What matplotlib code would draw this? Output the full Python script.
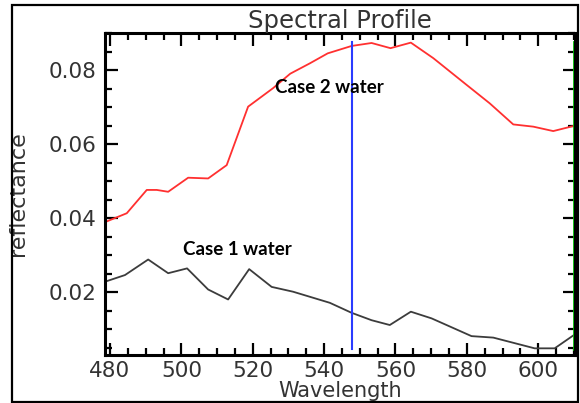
import matplotlib
matplotlib.use("Agg")
import matplotlib.pyplot as plt
from matplotlib.ticker import MultipleLocator
from matplotlib.patches import Rectangle

# Case 2 water spectrum (red)
case2_wl = [478.6, 484.7, 490.3, 493.1, 496.3, 501.9, 507.5, 512.7, 518.7, 525.7,
            530.5, 536.0, 541.0, 547.7, 553.3, 558.6, 564.3, 570.6, 579.9, 586.4,
            593.0, 598.6, 604.2, 610.0]
case2_refl = [0.0389, 0.0413, 0.0476, 0.0476, 0.0471, 0.0509, 0.0507, 0.0543, 0.0701, 0.0751,
              0.0790, 0.0818, 0.0845, 0.0865, 0.0873, 0.0859, 0.0874, 0.0832, 0.0760, 0.0710,
              0.0653, 0.0647, 0.0635, 0.0649]

# Case 1 water spectrum (black)
case1_wl = [478.6, 484.2, 490.7, 496.3, 501.6, 507.5, 513.1, 519.0, 525.3, 531.3,
            541.6, 547.7, 553.3, 558.4, 564.3, 570.1, 581.3, 587.4, 599.0, 604.6, 610.0]
case1_refl = [0.0228, 0.0246, 0.0288, 0.0251, 0.0264, 0.0207, 0.0180, 0.0262, 0.0214, 0.0201,
              0.0171, 0.0144, 0.0124, 0.0111, 0.0147, 0.0129, 0.0081, 0.0077, 0.0048, 0.0048, 0.0084]

cursor_wl = 547.7
edge_wl = 610.1
line_span = [0.0045, 0.0875]

fig = plt.figure(figsize=(5.8, 4.03), dpi=100)
ax = fig.add_axes([105 / 580, 1 - 355 / 403, 470 / 580, 322 / 403])

ax.plot(case2_wl, case2_refl, color="#ff3030", lw=1.3)
ax.plot(case1_wl, case1_refl, color="#3c3c3c", lw=1.3)
ax.plot([cursor_wl, cursor_wl], line_span, color="#2a3cff", lw=1.5)
ax.plot([edge_wl, edge_wl], line_span, color="#00c000", lw=2, clip_on=False)

ax.set_xlim(478.6, 610.3)
ax.set_ylim(0.003, 0.090)

ax.xaxis.set_major_locator(MultipleLocator(20))
ax.xaxis.set_minor_locator(MultipleLocator(5))
ax.yaxis.set_major_locator(MultipleLocator(0.02))
ax.yaxis.set_minor_locator(MultipleLocator(0.005))
ax.tick_params(which="both", direction="in", top=True, right=True, width=1.6,
               labelsize=15.5, colors="black")
ax.tick_params(which="major", length=9)
ax.tick_params(which="minor", length=5)
ax.tick_params(axis="x", which="major", pad=4)
ax.tick_params(axis="y", which="major", pad=6)
for lab in ax.get_xticklabels() + ax.get_yticklabels():
    lab.set_color("#333333")
for s in ax.spines.values():
    s.set_linewidth(2.2)

ax.set_title("Spectral Profile", fontsize=17.5, color="#333333", pad=2)
ax.set_xlabel("Wavelength", fontsize=15, color="#333333", labelpad=0)
ax.set_ylabel("reflectance", fontsize=16, color="#333333")
ax.yaxis.set_label_coords(-0.163, 0.50)

ax.text(526.2, 0.0754, "Case 2 water", fontsize=13.5, fontweight="bold",
        family="Lato", va="center")
ax.text(500.4, 0.0316, "Case 1 water", fontsize=13.5, fontweight="bold",
        family="Lato", va="center")

fig.patches.append(Rectangle((12 / 580, 1 / 403), 566 / 580, 397 / 403,
                             transform=fig.transFigure, fill=False,
                             edgecolor="black", lw=1.6))

fig.savefig("out.png", dpi=100)
